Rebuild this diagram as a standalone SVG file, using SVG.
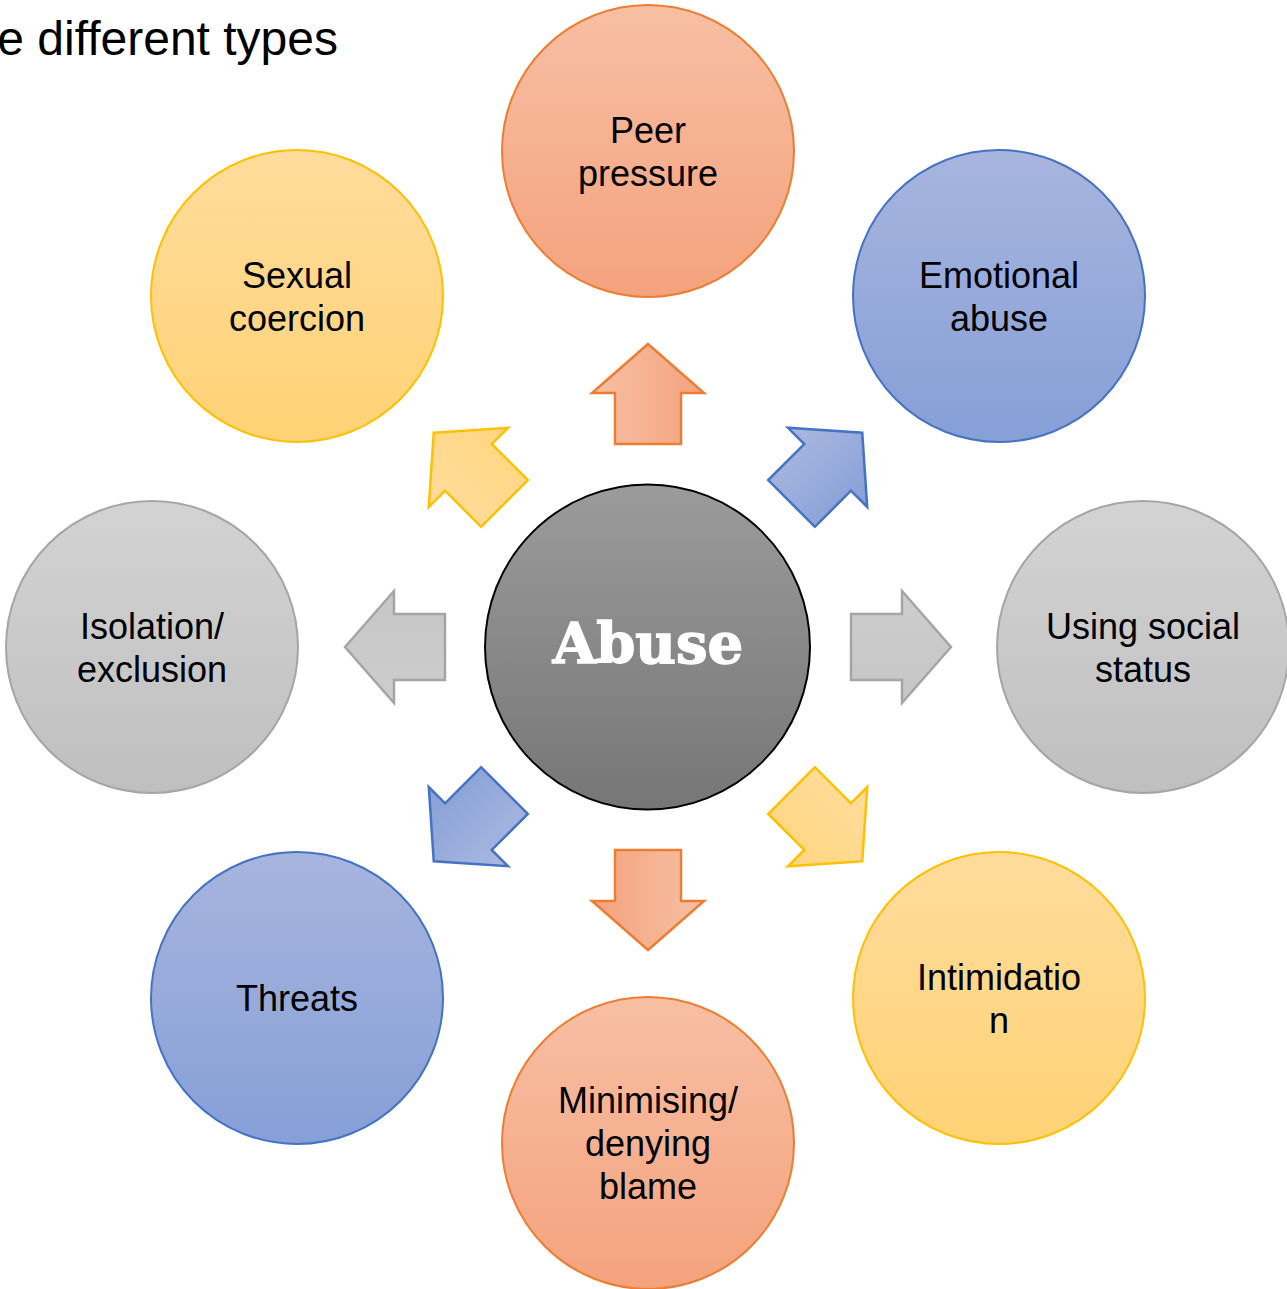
<svg xmlns="http://www.w3.org/2000/svg" width="1287" height="1289" viewBox="0 0 1287 1289">
<defs>
<linearGradient id="gO" x1="0" y1="0" x2="0" y2="1"><stop offset="0" stop-color="#f7bfa3"/><stop offset="1" stop-color="#f4a27d"/></linearGradient>
<linearGradient id="gB" x1="0" y1="0" x2="0" y2="1"><stop offset="0" stop-color="#a7b5de"/><stop offset="1" stop-color="#869fd7"/></linearGradient>
<linearGradient id="gY" x1="0" y1="0" x2="0" y2="1"><stop offset="0" stop-color="#ffdc9c"/><stop offset="1" stop-color="#ffd275"/></linearGradient>
<linearGradient id="gG" x1="0" y1="0" x2="0" y2="1"><stop offset="0" stop-color="#d3d3d3"/><stop offset="1" stop-color="#bfbfbf"/></linearGradient>
<linearGradient id="gC" x1="0" y1="0" x2="0" y2="1"><stop offset="0" stop-color="#9b9b9b"/><stop offset="1" stop-color="#767676"/></linearGradient>
<linearGradient id="aO" x1="0" y1="0" x2="1" y2="0"><stop offset="0" stop-color="#f7c0a4"/><stop offset="1" stop-color="#f4a27d"/></linearGradient>
<linearGradient id="aB" x1="0" y1="0" x2="1" y2="0"><stop offset="0" stop-color="#aab8e0"/><stop offset="1" stop-color="#869fd7"/></linearGradient>
<linearGradient id="aY" x1="0" y1="0" x2="1" y2="0"><stop offset="0" stop-color="#ffdc9c"/><stop offset="1" stop-color="#ffd680"/></linearGradient>
<linearGradient id="aG" x1="0" y1="0" x2="1" y2="0"><stop offset="0" stop-color="#cdcdcd"/><stop offset="1" stop-color="#c6c6c6"/></linearGradient>
<polygon id="arrow" points="0,-303 56,-254 33,-254 33,-203 -33,-203 -33,-254 -56,-254"/>
</defs>
<style>
.t{font-family:"Liberation Sans",Arial,sans-serif;font-size:36px;fill:#000;text-anchor:middle}
.o{fill:url(#gO);stroke:#ed7d31;stroke-width:2}
.b{fill:url(#gB);stroke:#4472c4;stroke-width:2}
.y{fill:url(#gY);stroke:#ffc000;stroke-width:2}
.g{fill:url(#gG);stroke:#a5a5a5;stroke-width:2}
.ao{fill:url(#aO);stroke:#ed7d31;stroke-width:2.5}
.ab{fill:url(#aB);stroke:#4472c4;stroke-width:2.5}
.ay{fill:url(#aY);stroke:#ffc000;stroke-width:2.5}
.ag{fill:url(#aG);stroke:#a5a5a5;stroke-width:2.5}
</style>
<rect width="1287" height="1289" fill="#fff"/>
<text x="338" y="55" font-family="Liberation Sans,Arial,sans-serif" font-size="48" text-anchor="end" fill="#000">e different types</text>

<g id="connectors">
<use href="#arrow" class="ao" transform="translate(648,647) rotate(0)"/>
<use href="#arrow" class="ab" transform="translate(648,647) rotate(45)"/>
<use href="#arrow" class="ag" transform="translate(648,647) rotate(90)"/>
<use href="#arrow" class="ay" transform="translate(648,647) rotate(135)"/>
<use href="#arrow" class="ao" transform="translate(648,647) rotate(180)"/>
<use href="#arrow" class="ab" transform="translate(648,647) rotate(225)"/>
<use href="#arrow" class="ag" transform="translate(648,647) rotate(270)"/>
<use href="#arrow" class="ay" transform="translate(648,647) rotate(315)"/>
</g>

<g id="abuse">
<circle cx="647.5" cy="647" r="162.5" fill="url(#gC)" stroke="#000" stroke-width="2"/>
<text x="648" y="663" font-family="DejaVu Serif,serif" font-weight="bold" font-size="56" fill="#fff" text-anchor="middle" stroke="#fff" stroke-width="1.5">Abuse</text>
</g>

<g id="peer-pressure">
<circle class="o" cx="648" cy="151" r="146"/>
<text class="t" x="648" y="143">Peer</text>
<text class="t" x="648" y="186">pressure</text>
</g>
<g id="emotional-abuse">
<circle class="b" cx="999" cy="296" r="146"/>
<text class="t" x="999" y="288">Emotional</text>
<text class="t" x="999" y="331">abuse</text>
</g>
<g id="using-social-status">
<circle class="g" cx="1143" cy="647" r="146"/>
<text class="t" x="1143" y="639">Using social</text>
<text class="t" x="1143" y="682">status</text>
</g>
<g id="intimidation">
<circle class="y" cx="999" cy="998" r="146"/>
<text class="t" x="999" y="990">Intimidatio</text>
<text class="t" x="999" y="1033">n</text>
</g>
<g id="minimising">
<circle class="o" cx="648" cy="1143" r="146"/>
<text class="t" x="648" y="1113">Minimising/</text>
<text class="t" x="648" y="1156">denying</text>
<text class="t" x="648" y="1199">blame</text>
</g>
<g id="threats">
<circle class="b" cx="297" cy="998" r="146"/>
<text class="t" x="297" y="1011">Threats</text>
</g>
<g id="isolation">
<circle class="g" cx="152" cy="647" r="146"/>
<text class="t" x="152" y="639">Isolation/</text>
<text class="t" x="152" y="682">exclusion</text>
</g>
<g id="sexual-coercion">
<circle class="y" cx="297" cy="296" r="146"/>
<text class="t" x="297" y="288">Sexual</text>
<text class="t" x="297" y="331">coercion</text>
</g>
</svg>
